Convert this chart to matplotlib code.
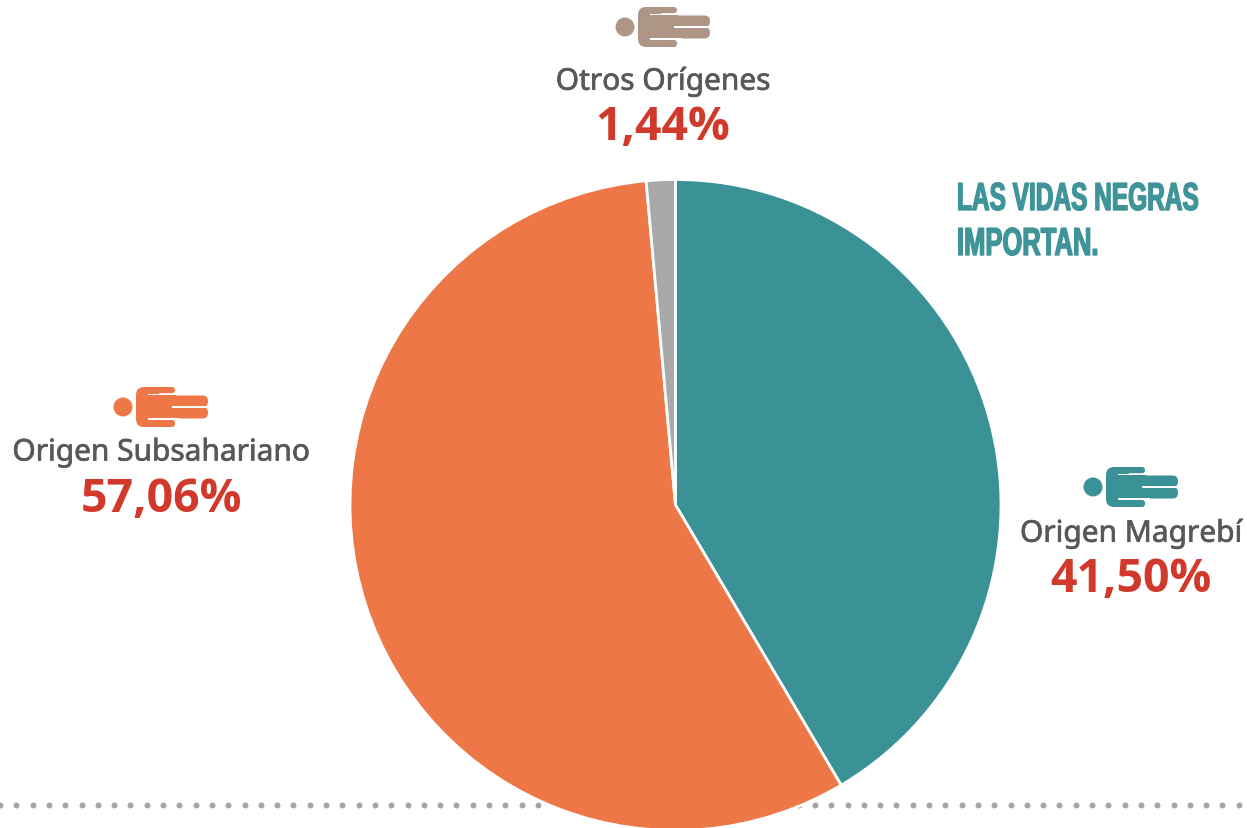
import matplotlib
matplotlib.use('Agg')
from matplotlib import pyplot as plt
from matplotlib import patheffects as pe
from matplotlib.patches import Circle, FancyBboxPatch, Rectangle
from matplotlib.transforms import Affine2D

W, H = 1247, 829

# datos
categorias = ['Origen Magrebí', 'Origen Subsahariano', 'Otros Orígenes']
valores = [41.50, 57.06, 1.44]
etiquetas = ['41,50%', '57,06%', '1,44%']
colores = ['#3A9196', '#EE7747', '#A9A9A9']
colores_icono = ['#3A9196', '#EE7747', '#AE9585']
titulo = ['LAS VIDAS NEGRAS', 'IMPORTAN.']

fig = plt.figure(figsize=(W / 100, H / 100), dpi=100)
ax = fig.add_axes([0, 0, 1, 1])

# linea de puntos abajo
xs = [16.3 * i for i in range(78)]
ax.scatter(xs, [H - 805.5] * len(xs), s=18, c='#A3A3A3', linewidths=0, zorder=1)

ax.pie(valores, colors=colores, startangle=90, counterclock=False,
       center=(675.5, H - 506), radius=325.5,
       wedgeprops={'edgecolor': 'white', 'linewidth': 2})
for p in ax.patches:
    p.set_zorder(2)

ax.set_xlim(0, W)
ax.set_ylim(0, H)
ax.set_aspect('equal')
ax.axis('off')


def barra(x0, x1, y0, y1, color, r=3):
    ax.add_patch(FancyBboxPatch((x0 + r, H - y1 + r), x1 - x0 - 2 * r, y1 - y0 - 2 * r,
                                boxstyle='round,pad=%f,rounding_size=%f' % (r, r),
                                fc=color, ec='none', zorder=3))


# persona tumbada, x y es el centro de la cabeza
def persona(x, y, color):
    ax.add_patch(Circle((x, H - y), 9.5, fc=color, ec='none', zorder=3))
    barra(x + 13, x + 36, y - 20, y + 20, color, r=8)
    barra(x + 22, x + 52, y - 20, y - 13.8, color, r=3)
    barra(x + 22, x + 52, y + 13, y + 20, color, r=3)
    ax.add_patch(Rectangle((x + 25, H - y - 13), 28, 25, fc=color, ec='none', zorder=3))
    barra(x + 45, x + 85, y - 11.5, y, color, r=5.5)
    barra(x + 45, x + 85, y, y + 11.5, color, r=5.5)
    # rendijas blancas
    ax.add_patch(Rectangle((x + 25, H - y + 11.8), 32, 1.6, fc='white', ec='none', zorder=4))
    ax.add_patch(Rectangle((x + 25, H - y - 13), 32, 1.6, fc='white', ec='none', zorder=4))
    ax.add_patch(Rectangle((x + 49, H - y - 0.6), 37, 1.2, fc='white', ec='none', zorder=4))


iconos = [(1093, 488), (123, 408), (625, 28)]
for (ix, iy), c in zip(iconos, colores_icono):
    persona(ix, iy, c)

pos_nombre = [(1131, 535), (161, 454), (663, 83)]
pos_valor = [(1131, 579), (161, 499), (663, 128)]
for n, e, pn, pv in zip(categorias, etiquetas, pos_nombre, pos_valor):
    ax.text(pn[0], H - pn[1], n, fontsize=21.5, color='#58585A', family='Noto Sans',
            ha='center', va='center', zorder=5,
            path_effects=[pe.withStroke(linewidth=0.5, foreground='#58585A')])
    ax.text(pv[0], H - pv[1], e, fontsize=33.5, color='#D0392B', family='Open Sans',
            fontweight='bold', ha='center', va='center', zorder=5)


# no hay fuente estrecha instalada: se estira el texto en vertical desde la base
class Estira(pe.AbstractPathEffect):
    def __init__(self, y0, sy):
        super().__init__()
        self.y0 = y0
        self.sy = sy

    def draw_path(self, renderer, gc, tpath, affine, rgbFace=None):
        t = affine + Affine2D().translate(0, -self.y0).scale(1, self.sy).translate(0, self.y0)
        gc0 = renderer.new_gc()
        gc0.copy_properties(gc)
        gc0.set_linewidth(1.0)
        gc0.set_foreground(rgbFace)
        renderer.draw_path(gc0, tpath, t, rgbFace)
        gc0.restore()


bases = [H - 211, H - 256]
tamanos = [17.6, 18.4]
for linea, b, fs in zip(titulo, bases, tamanos):
    ax.text(957, b, linea, fontsize=fs, color='#3F9499', fontweight='bold',
            family='Liberation Sans', ha='left', va='baseline', zorder=5,
            path_effects=[Estira(b, 28.5 / (fs * 1.0125))])

fig.savefig('out.png', dpi=100)
